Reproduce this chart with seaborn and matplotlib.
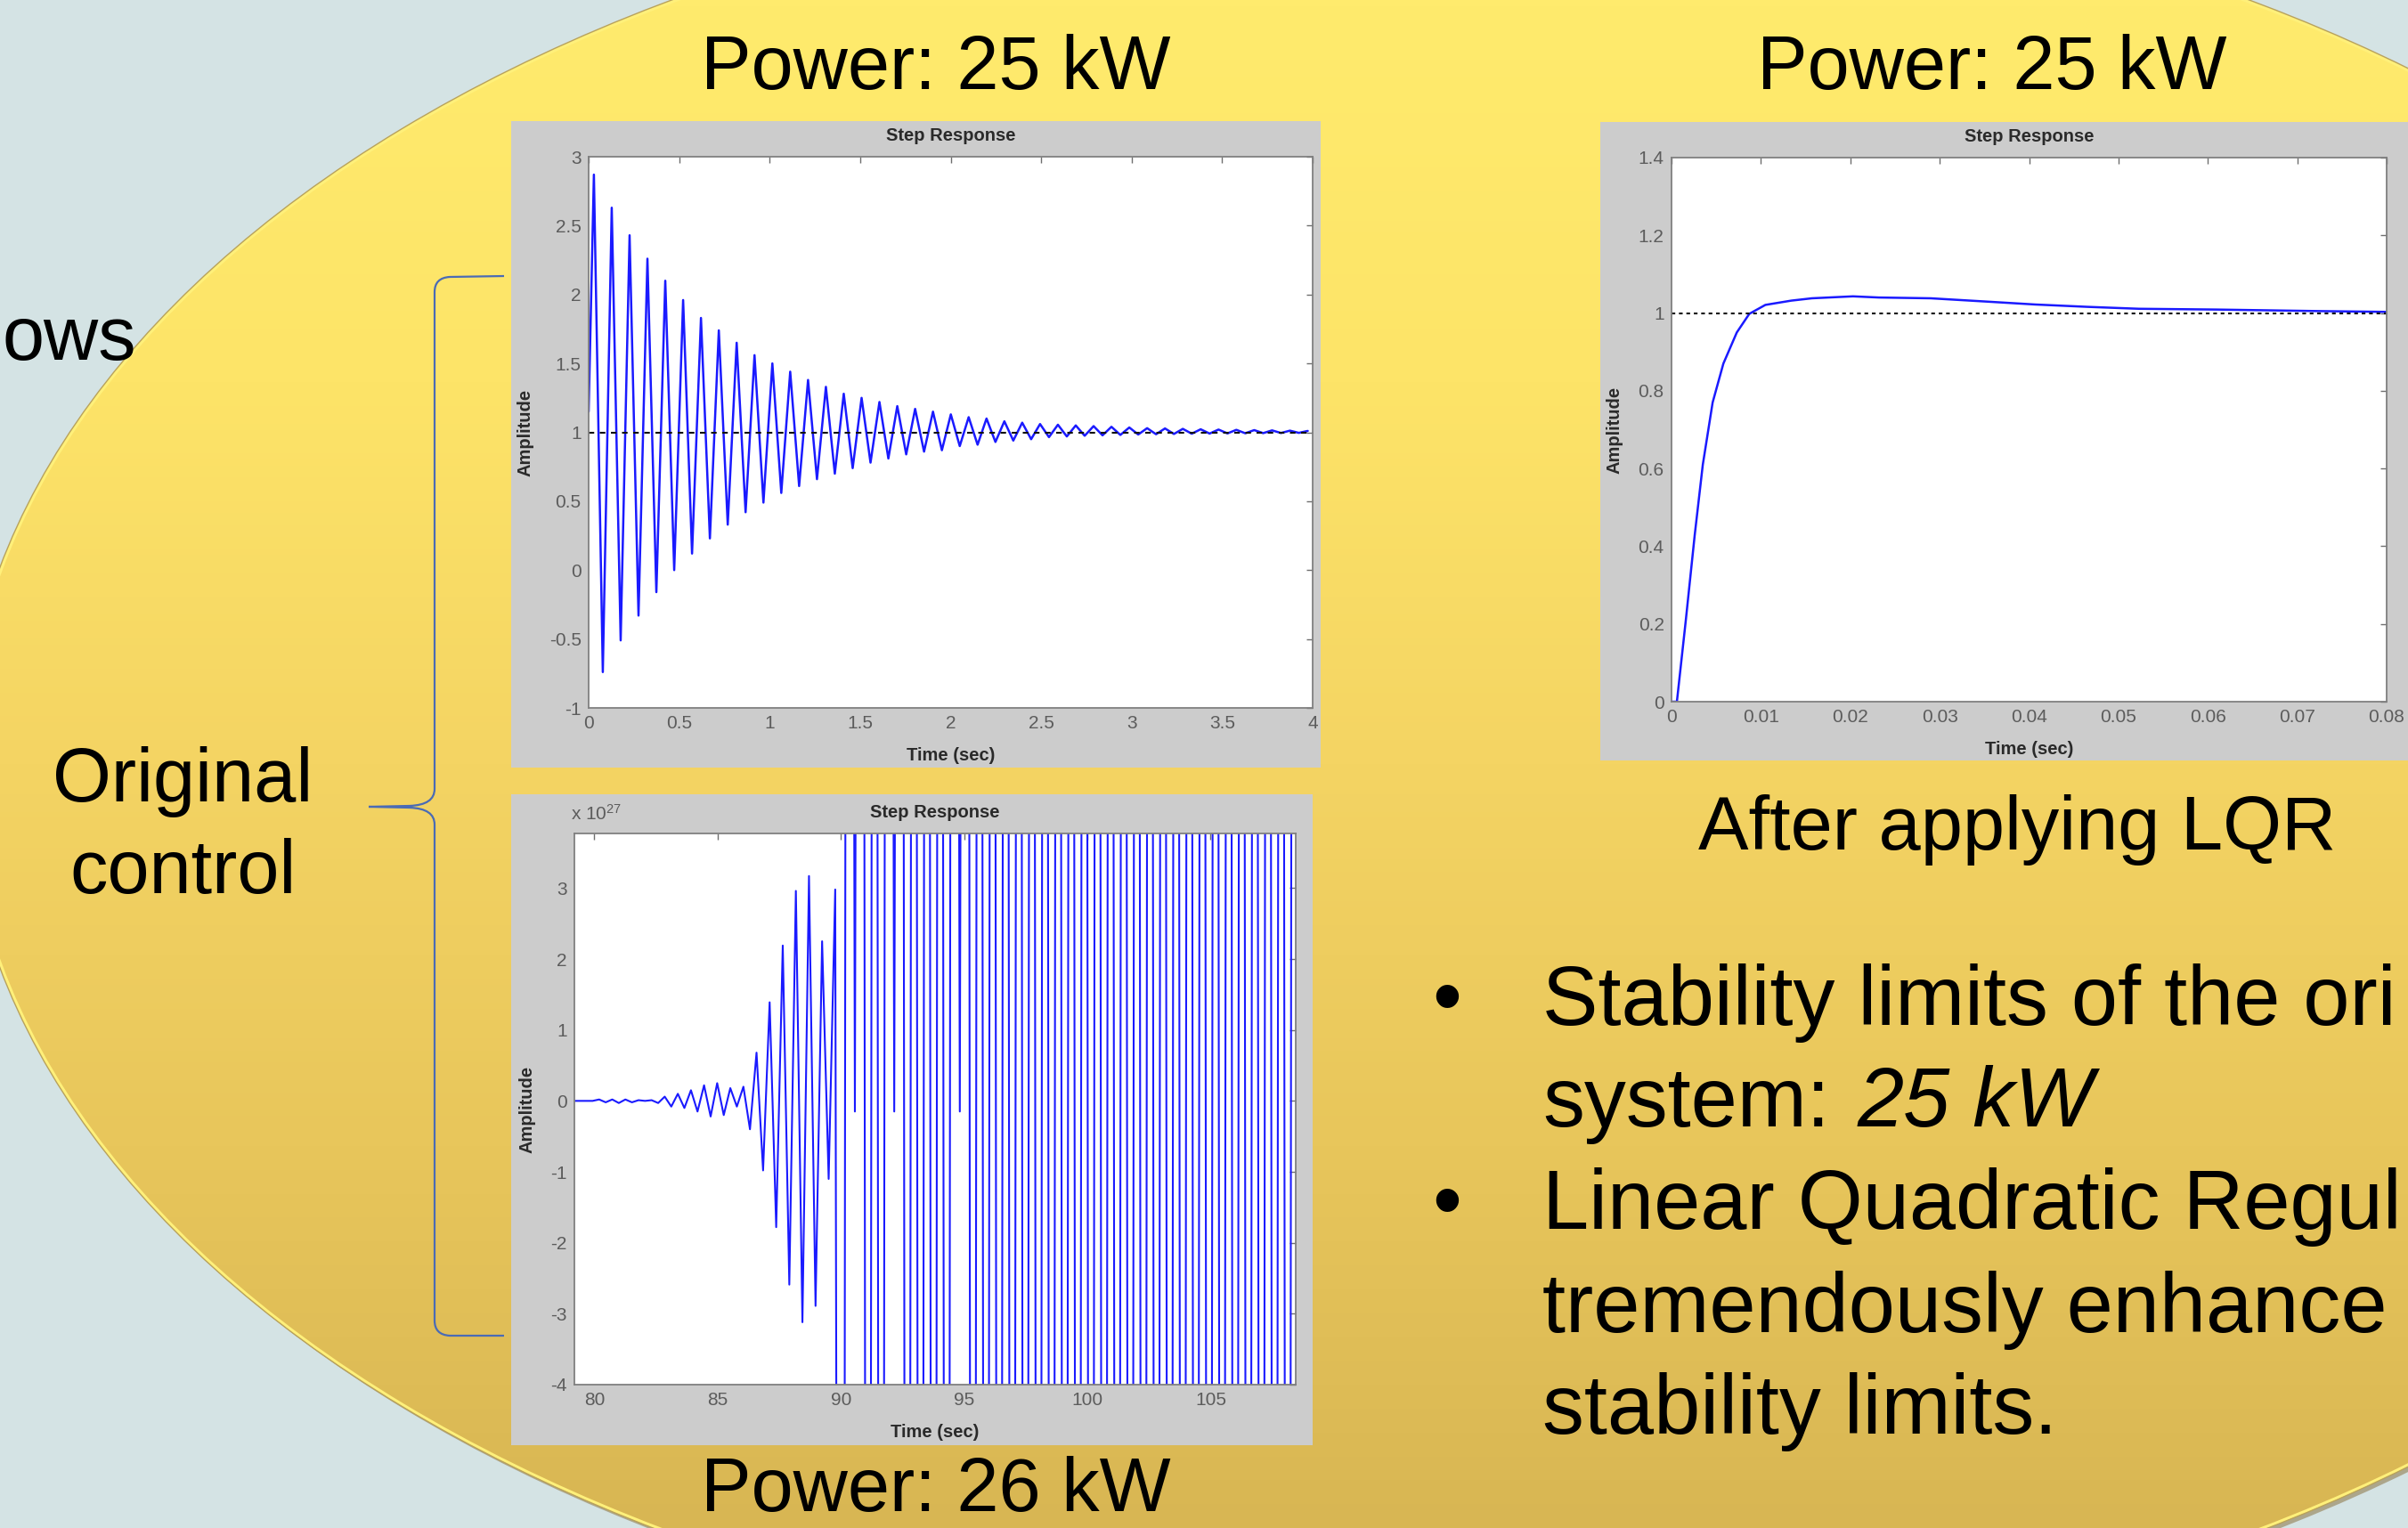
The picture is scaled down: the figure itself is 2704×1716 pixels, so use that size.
import numpy as np
import matplotlib
matplotlib.use("Agg")
import matplotlib.pyplot as plt
import seaborn as sns
from matplotlib.patches import Ellipse, Rectangle, PathPatch
from matplotlib.path import Path
from matplotlib.colors import LinearSegmentedColormap

# -----------------------------
# DATA
# -----------------------------
# Plot 1: Power 25 kW, original control -> alternating peaks / troughs
p1_start = 1.15
p1_first_peak_t = 0.029
p1_half_period = 0.0493
p1_peaks = [2.87, 2.63, 2.43, 2.26, 2.10, 1.96, 1.83, 1.74, 1.65, 1.56, 1.50,
            1.44, 1.38, 1.33, 1.28, 1.25, 1.22, 1.19, 1.17, 1.15, 1.13, 1.11,
            1.10, 1.08, 1.07, 1.06, 1.055, 1.05, 1.045, 1.04, 1.035, 1.03,
            1.028, 1.025, 1.022, 1.02, 1.018, 1.016, 1.014, 1.012, 1.01]
p1_troughs = [-0.74, -0.51, -0.33, -0.16, 0.0, 0.12, 0.23, 0.33, 0.42, 0.49,
              0.56, 0.61, 0.66, 0.70, 0.74, 0.78, 0.81, 0.84, 0.86, 0.87,
              0.90, 0.91, 0.93, 0.94, 0.95, 0.965, 0.97, 0.975, 0.978, 0.981,
              0.984, 0.986, 0.988, 0.99, 0.991, 0.992, 0.993, 0.994, 0.995, 0.996]
p1_xticks = [0, 0.5, 1, 1.5, 2, 2.5, 3, 3.5, 4]
p1_xlabels = ["0", "0.5", "1", "1.5", "2", "2.5", "3", "3.5", "4"]
p1_yticks = [-1, -0.5, 0, 0.5, 1, 1.5, 2, 2.5, 3]
p1_ylabels = ["-1", "-0.5", "0", "0.5", "1", "1.5", "2", "2.5", "3"]

# Plot 2: Power 26 kW (amplitude in units of 1e27), one value per half period
p2_t0 = 79.13
p2_half_period = 0.266
p2_values = [0, 0, 0, 0, 0.02, -0.02, 0.02, -0.03, 0.02, -0.02, 0.01, 0.0,
             0.01, -0.03, 0.06, -0.08, 0.1, -0.1, 0.15, -0.15, 0.22, -0.22,
             0.25, -0.2, 0.18, -0.08, 0.2, -0.4, 0.68, -0.98, 1.39, -1.78,
             2.19, -2.59, 2.96, -3.12, 3.17, -2.89, 2.25, -1.1, 2.98, -40,
             40, -0.15, 40, -40, 40, -40, 40, -0.15, 40, -40, 40, -40,
             40, -40, 40, -40, 40, -0.15, 40, -40, 40, -40, 40, -40, 40, -40,
             40, -40, 40, -40, 40, -40, 40, -40, 40, -40, 40, -40, 40, -40,
             40, -40, 40, -40, 40, -40, 40, -40, 40, -40, 40, -40, 40, -40,
             40, -40, 40, -40, 40, -40, 40, -40, 40, -40, 40, -40, 40, -40,
             40, -40]
p2_xticks = [80, 85, 90, 95, 100, 105]
p2_xlabels = ["80", "85", "90", "95", "100", "105"]
p2_yticks = [-4, -3, -2, -1, 0, 1, 2, 3]
p2_ylabels = ["-4", "-3", "-2", "-1", "0", "1", "2", "3"]

# Plot 3: after applying LQR
p3_t = [0, 0.0006, 0.0016, 0.0026, 0.0035, 0.0046, 0.0058, 0.0073, 0.0087,
        0.0105, 0.0134, 0.0157, 0.0203, 0.0232, 0.029, 0.0349, 0.0407,
        0.0465, 0.0523, 0.061, 0.0726, 0.08]
p3_y = [0, 0.0, 0.21, 0.43, 0.61, 0.77, 0.87, 0.95, 0.998, 1.021, 1.032,
        1.038, 1.043, 1.04, 1.038, 1.03, 1.022, 1.016, 1.011, 1.009, 1.005,
        1.003]
p3_xticks = [0, 0.01, 0.02, 0.03, 0.04, 0.05, 0.06, 0.07, 0.08]
p3_xlabels = ["0", "0.01", "0.02", "0.03", "0.04", "0.05", "0.06", "0.07", "0.08"]
p3_yticks = [0, 0.2, 0.4, 0.6, 0.8, 1, 1.2, 1.4]
p3_ylabels = ["0", "0.2", "0.4", "0.6", "0.8", "1", "1.2", "1.4"]

# -----------------------------
# BUILD SERIES
# -----------------------------
p1_vals = [p1_start]
for pk, tr in zip(p1_peaks, p1_troughs + [None]):
    p1_vals.append(pk)
    if tr is not None:
        p1_vals.append(tr)
p1_times = [0.0] + list(p1_first_peak_t + p1_half_period * np.arange(len(p1_vals) - 1))

p2_times = p2_t0 + p2_half_period * np.arange(len(p2_values))

# -----------------------------
# FIGURE / SLIDE BACKGROUND
# -----------------------------
sns.set_style("white")
plt.rcParams['font.family'] = ['Liberation Sans', 'DejaVu Sans']
plt.rcParams['mathtext.default'] = 'regular'
plt.rcParams['text.color'] = 'black'

W, H = 2704, 1716
fig = plt.figure(figsize=(W / 100, H / 100), dpi=100)
fig.patch.set_facecolor('#d4e3e4')

bg = fig.add_axes([0, 0, 1, 1])
bg.set_axis_off()

shadow = Ellipse((1644, 868), 3360, 2024, facecolor='#8c7443', edgecolor='none',
                 alpha=0.55, zorder=0.5)
bg.add_patch(shadow)
ell = Ellipse((1640, 862), 3360, 2024, facecolor='none', edgecolor='none')
bg.add_patch(ell)
grad = np.linspace(0, 1, 512).reshape(-1, 1)
cmap = LinearSegmentedColormap.from_list(
    'slide', [(0, '#ffeb6d'), (0.25, '#fde468'), (0.5, '#f4d463'),
              (0.75, '#e8c65b'), (1, '#d8b653')])
im = bg.imshow(grad, extent=(0, W, H, 0), cmap=cmap, aspect='auto', zorder=1)
im.set_clip_path(ell)
bg.add_patch(Ellipse((1640, 862), 3360, 2024, facecolor='none',
                     edgecolor='#fff07a', linewidth=2.5, zorder=1.2))
bg.add_patch(Ellipse((1640, 862), 3364, 2028, facecolor='none',
                     edgecolor='#b9a25a', linewidth=1.0, zorder=1.3))
bg.set_xlim(0, W)
bg.set_ylim(H, 0)

# grey figure frames behind the step-response axes
bg.add_patch(Rectangle((574, 136), 909, 726, facecolor='#cccccc', edgecolor='none', zorder=2))
bg.add_patch(Rectangle((574, 892), 900, 731, facecolor='#cccccc', edgecolor='none', zorder=2))
bg.add_patch(Rectangle((1797, 137), 910, 717, facecolor='#cccccc', edgecolor='none', zorder=2))

# curly brace
verts = [(566, 310), (505, 311), (488, 312), (488, 328), (488, 886), (488, 904), (460, 905),
         (414, 906), (414, 906), (460, 907), (488, 908), (488, 926), (488, 1483),
         (488, 1499), (505, 1500), (566, 1500)]
codes = [Path.MOVETO, Path.LINETO, Path.CURVE3, Path.CURVE3, Path.LINETO, Path.CURVE3,
         Path.CURVE3, Path.LINETO, Path.MOVETO, Path.LINETO, Path.CURVE3, Path.CURVE3,
         Path.LINETO, Path.CURVE3, Path.CURVE3, Path.LINETO]
bg.add_patch(PathPatch(Path(verts, codes), facecolor='none', edgecolor='#4a6bb5',
                       linewidth=1.6, zorder=3))

# slide texts
big = 61
bg.text(1051, 100, "Power: 25 kW", fontsize=big, ha='center', va='baseline', zorder=4)
bg.text(2237, 100, "Power: 25 kW", fontsize=big, ha='center', va='baseline', zorder=4)
bg.text(1051, 1697, "Power: 26 kW", fontsize=big, ha='center', va='baseline', zorder=4)
bg.text(2265, 954, "After applying LQR", fontsize=big, ha='center', va='baseline', zorder=4)
bg.text(205, 900, "Original", fontsize=big, ha='center', va='baseline', zorder=4)
bg.text(205, 1003, "control", fontsize=big, ha='center', va='baseline', zorder=4)
bg.text(2, 404, "ows", fontsize=big, ha='left', va='baseline', zorder=4)

bul = 67.5
bg.text(1625, 1151, "\u2022", fontsize=bul, ha='center', va='baseline', zorder=4)
bg.text(1625, 1380, "\u2022", fontsize=bul, ha='center', va='baseline', zorder=4)
bg.text(1732, 1151, "Stability limits of the ori", fontsize=bul, va='baseline', zorder=4)
bg.text(1732, 1265, "system:", fontsize=bul, va='baseline', zorder=4)
bg.text(2086, 1265, "25 kW", fontsize=bul, style='italic', va='baseline', zorder=4)
bg.text(1732, 1380, "Linear Quadratic Regul", fontsize=bul, va='baseline', zorder=4)
bg.text(1732, 1496, "tremendously enhance", fontsize=bul, va='baseline', zorder=4)
bg.text(1732, 1610, "stability limits.", fontsize=bul, va='baseline', zorder=4)


# -----------------------------
# STEP RESPONSE AXES
# -----------------------------
def make_axes(left, top, right, bottom):
    return fig.add_axes([left / W, 1 - bottom / H, (right - left) / W, (bottom - top) / H])


def style_axes(ax, xticks, xlabels, yticks, ylabels, xlim, ylim):
    ax.set_facecolor('white')
    ax.set_xlim(xlim)
    ax.set_ylim(ylim)
    ax.set_xticks(xticks)
    ax.set_xticklabels(xlabels)
    ax.set_yticks(yticks)
    ax.set_yticklabels(ylabels)
    ax.tick_params(direction='in', top=True, right=True, length=5, width=1,
                   color='#6e6e6e', labelcolor='#5c5c5c', labelsize=15, pad=6)
    for s in ax.spines.values():
        s.set_visible(True)
        s.set_color('#808080')
        s.set_linewidth(1.3)
    ax.set_title("Step Response", fontsize=14.5, fontweight='bold', color='#2a2a2a', pad=13)
    ax.set_xlabel("Time (sec)", fontsize=14.5, fontweight='bold', color='#2a2a2a', labelpad=12)
    ax.set_ylabel("Amplitude", fontsize=14.5, fontweight='bold', color='#2a2a2a', labelpad=12)


blue = '#1a1aff'

ax1 = make_axes(661, 176, 1474, 795)
sns.lineplot(x=p1_times, y=p1_vals, ax=ax1, color=blue, linewidth=1.8,
             sort=False, estimator=None)
ax1.axhline(1, color='#111111', linewidth=1.5, linestyle=(0, (3, 3)))
style_axes(ax1, p1_xticks, p1_xlabels, p1_yticks, p1_ylabels, (0, 4), (-1, 3))

ax2 = make_axes(645, 936, 1455, 1555)
sns.lineplot(x=p2_times, y=p2_values, ax=ax2, color=blue, linewidth=1.5,
             sort=False, estimator=None)
style_axes(ax2, p2_xticks, p2_xlabels, p2_yticks, p2_ylabels, (79.19, 108.45), (-4, 3.77))
bg.text(641, 921, r"x 10$^{27}$", fontsize=15, color='#5c5c5c', va='baseline', zorder=4)

ax3 = make_axes(1877, 177, 2680, 788)
sns.lineplot(x=p3_t, y=p3_y, ax=ax3, color=blue, linewidth=1.8,
             sort=False, estimator=None)
ax3.axhline(1, color='#111111', linewidth=1.5, linestyle=(0, (2, 2)))
style_axes(ax3, p3_xticks, p3_xlabels, p3_yticks, p3_ylabels, (0, 0.08), (0, 1.4))

plt.savefig("out.png", dpi=100)
plt.close()
